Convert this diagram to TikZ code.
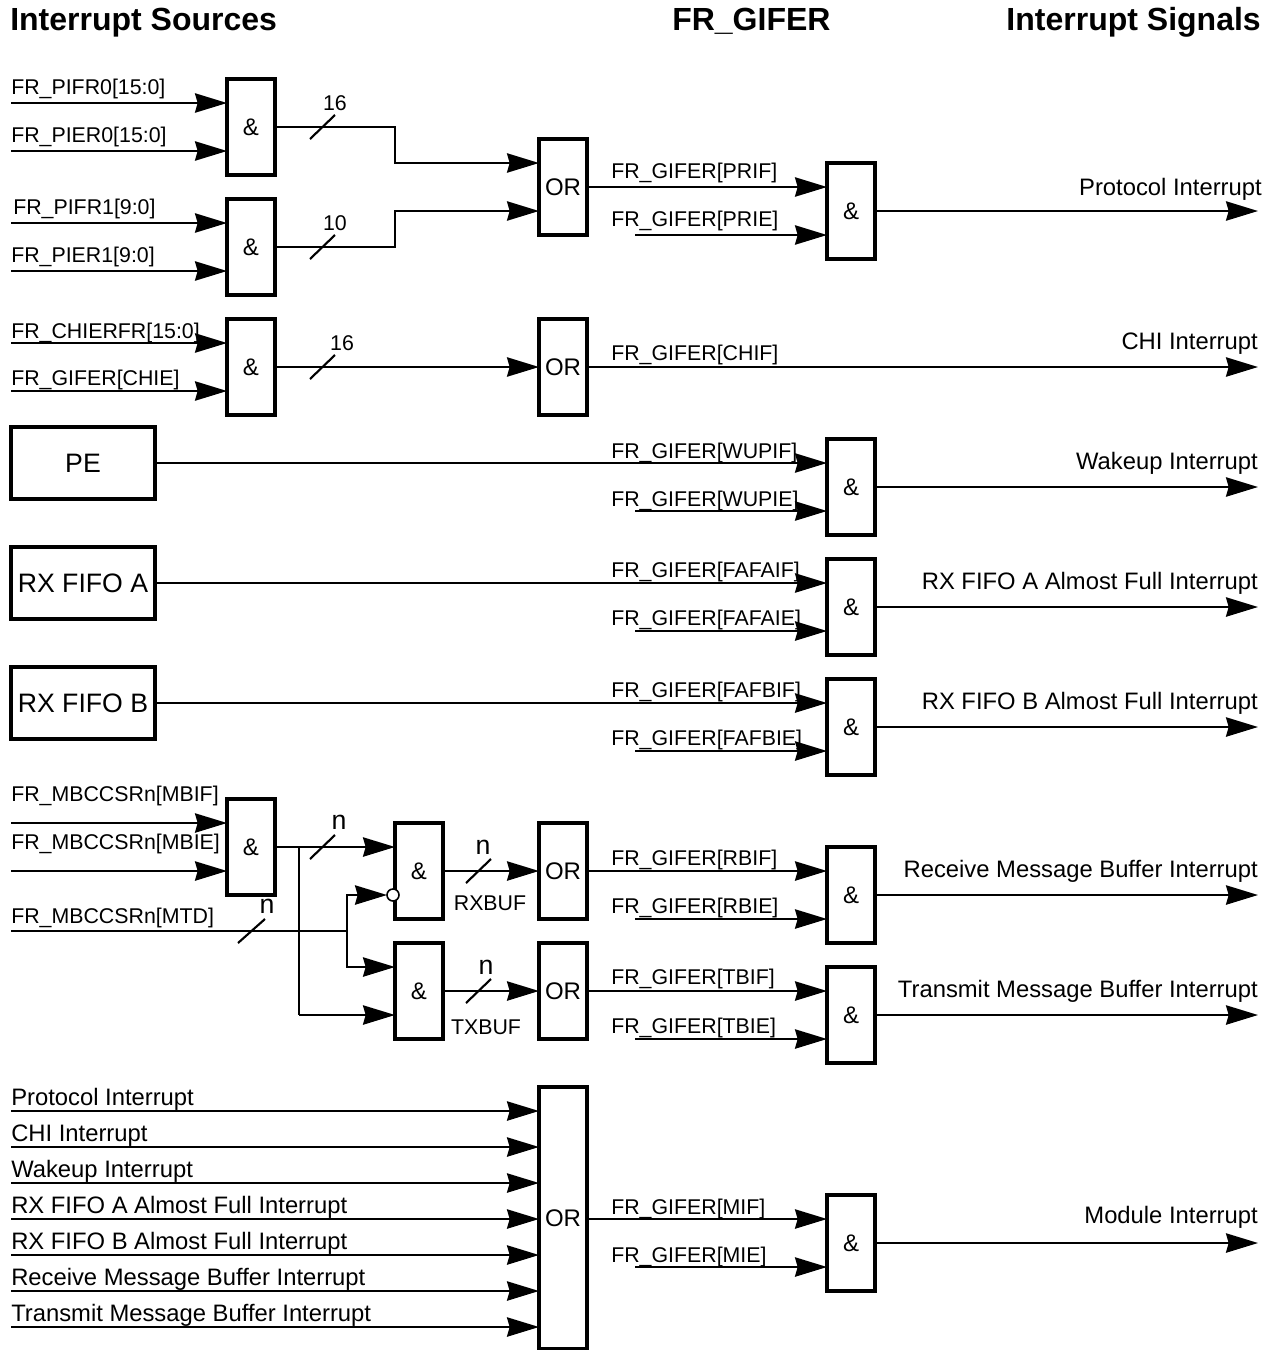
\documentclass[tikz,border=0pt]{standalone}
\usepackage{fontspec}
\setmainfont{Liberation Sans}
\usetikzlibrary{arrows.meta}
\newcommand\fs[1]{\fontsize{#1}{#1}\selectfont}
\tikzset{
  x=0.75pt,y=-0.75pt,
  boxbase/.style={draw=black,line width=2.6pt,fill=white,inner sep=0pt,outer sep=0pt,align=center},
  gate/.style={boxbase,minimum width=36pt,minimum height=72pt,font=\fs{18}},
  srcbox/.style={boxbase,minimum width=108pt,minimum height=54pt,font=\fs{20}},
  wire/.style={line width=1.6pt,line join=miter},
  sig/.style={wire,-{Stealth[length=24pt,width=14.5pt,inset=2pt]}},
  tick/.style={line width=1.6pt},
  lab/.style={anchor=base west,inner sep=0pt,font=\fs{16}},
  big/.style={anchor=base west,inner sep=0pt,font=\fs{17.85}},
  rlab/.style={anchor=base east,inner sep=0pt,font=\fs{17.85}},
  head/.style={inner sep=0pt,font=\bfseries\fs{24}},
  num/.style={inner sep=0pt,font=\fs{16}},
  nn/.style={inner sep=0pt,font=\fs{20}},
  bubble/.style={circle,draw=black,fill=white,line width=1.2pt,minimum size=9pt,inner sep=0pt,outer sep=0pt},
}
\begin{document}
\begin{tikzpicture}
\useasboundingbox (0,0) rectangle (1275,1350);
% headers
\node[head,anchor=base west] (h1) at (10,30) {Interrupt Sources};
\node[head,anchor=base west] (h2) at (672,30) {FR\_GIFER};
\node[head,anchor=base east] (h3) at (1261,30) {Interrupt Signals};
% gates
\node[gate] (A1) at (251,127) {\&};
\node[gate] (A2) at (251,247) {\&};
\node[gate] (A3) at (251,367) {\&};
\node[gate] (O1) at (563,187) {OR};
\node[gate] (G1) at (851,211) {\&};
\node[gate] (O2) at (563,367) {OR};
\node[srcbox] (PE) at (83,463) {PE};
\node[gate] (G3) at (851,487) {\&};
\node[srcbox] (RXA) at (83,583) {RX FIFO A};
\node[gate] (G4) at (851,607) {\&};
\node[srcbox] (RXB) at (83,703) {RX FIFO B};
\node[gate] (G5) at (851,727) {\&};
\node[gate] (A4) at (251,847) {\&};
\node[gate] (A5) at (419,871) {\&};
\node[gate] (O3) at (563,871) {OR};
\node[gate] (G6) at (851,895) {\&};
\node[gate] (A6) at (419,991) {\&};
\node[gate] (O4) at (563,991) {OR};
\node[gate] (G7) at (851,1015) {\&};
\node[gate,minimum height=196.5pt] (O5) at (563,1218) {OR};
\node[gate] (G8) at (851,1243) {\&};
\node[bubble] (bub) at (393,895) {};
% free ends, left inputs
\foreach \n/\y in {a/103,b/151,c/223,d/271,e/343,f/391,g/823,h/871,i/931,
  p1/1111,p2/1147,p3/1183,p4/1219,p5/1255,p6/1291,p7/1327}
  \coordinate (in\n) at (11,\y);
% free ends, enable inputs
\foreach \n/\y in {1/235,3/511,4/631,5/751,6/919,7/1039,8/1267}
  \coordinate (en\n) at (635,\y);
% free ends, right outputs
\foreach \n/\y in {1/211,2/367,3/487,4/607,5/727,6/895,7/1015,8/1243}
  \coordinate (out\n) at (1258,\y);
% bends
\coordinate (b1a) at (395,127); \coordinate (b1b) at (395,163);
\coordinate (b2a) at (395,247); \coordinate (b2b) at (395,211);
\coordinate (j1) at (299,847); \coordinate (j2) at (299,1015);
\coordinate (j3) at (347,931); \coordinate (j4) at (347,895); \coordinate (j5) at (347,967);
\coordinate (m1) at (587,1219);
% inputs of first gates
\draw[sig] (ina) -- (A1.west |- ina);
\draw[sig] (inb) -- (A1.west |- inb);
\draw[sig] (inc) -- (A2.west |- inc);
\draw[sig] (ind) -- (A2.west |- ind);
\draw[sig] (ine) -- (A3.west |- ine);
\draw[sig] (inf) -- (A3.west |- inf);
\draw[sig] (ing) -- (A4.west |- ing);
\draw[sig] (inh) -- (A4.west |- inh);
% to OR
\draw[sig] (A1.east |- b1a) -- (b1a) -- (b1b) -- (O1.west |- b1b);
\draw[sig] (A2.east |- b2a) -- (b2a) -- (b2b) -- (O1.west |- b2b);
\draw[sig] (A3.east) -- (O2.west);
% OR to AND
\draw[sig] (O1.east) -- (G1.west |- O1.east);
\draw[sig] (en1) -- (G1.west |- en1);
\draw[sig] (G1.east) -- (out1);
\draw[sig] (O2.east) -- (out2);
\draw[sig] (PE.east) -- (G3.west |- PE.east);
\draw[sig] (en3) -- (G3.west |- en3);
\draw[sig] (G3.east) -- (out3);
\draw[sig] (RXA.east) -- (G4.west |- RXA.east);
\draw[sig] (en4) -- (G4.west |- en4);
\draw[sig] (G4.east) -- (out4);
\draw[sig] (RXB.east) -- (G5.west |- RXB.east);
\draw[sig] (en5) -- (G5.west |- en5);
\draw[sig] (G5.east) -- (out5);
% message buffers
\draw[sig] (A4.east) -- (A5.west |- A4.east);
\draw[wire] (j1) -- (j2);
\draw[sig] (j2) -- (A6.west |- j2);
\draw[wire] (ini) -- (j3);
\draw[sig] (j3) -- (j4) -- (bub.west);
\draw[sig] (j3) -- (j5) -- (A6.west |- j5);
\draw[sig] (A5.east) -- (O3.west);
\draw[sig] (A6.east) -- (O4.west);
\draw[sig] (O3.east) -- (G6.west |- O3.east);
\draw[sig] (en6) -- (G6.west |- en6);
\draw[sig] (G6.east) -- (out6);
\draw[sig] (O4.east) -- (G7.west |- O4.east);
\draw[sig] (en7) -- (G7.west |- en7);
\draw[sig] (G7.east) -- (out7);
% module interrupt
\foreach \n in {1,...,7} \draw[sig] (inp\n) -- (O5.west |- inp\n);
\draw[sig] (O5.east |- m1) -- (G8.west |- m1);
\draw[sig] (en8) -- (G8.west |- en8);
\draw[sig] (G8.east) -- (out8);
% bus ticks
\draw[tick] (310,139) -- (335,115);
\draw[tick] (310,259) -- (335,235);
\draw[tick] (310,379) -- (335,355);
\draw[tick] (310,859) -- (335,835);
\draw[tick] (238,943) -- (265,919);
\draw[tick] (466,883) -- (491,859);
\draw[tick] (466,1003) -- (491,979);
\node[num] (n1) at (335,103) {16};
\node[num] (n2) at (335,223) {10};
\node[num] (n3) at (342,343) {16};
\node[nn] (n4) at (339,822) {n};
\node[nn] (n5) at (267,906) {n};
\node[nn] (n6) at (483,847) {n};
\node[nn] (n7) at (486,967) {n};
\node[num] (rx) at (490,903) {RXBUF};
\node[num] (tx) at (486,1027) {TXBUF};
% left labels
\node[lab] (l1) at (11,94) {FR\_PIFR0[15:0]};
\node[lab] (l2) at (11,142) {FR\_PIER0[15:0]};
\node[lab] (l3) at (13,214) {FR\_PIFR1[9:0]};
\node[lab] (l4) at (11,262) {FR\_PIER1[9:0]};
\node[lab] (l5) at (11,338) {FR\_CHIERFR[15:0]};
\node[lab] (l6) at (11,385) {FR\_GIFER[CHIE]};
\node[lab] (l7) at (11,801) {FR\_MBCCSRn[MBIF]};
\node[lab] (l8) at (11,849) {FR\_MBCCSRn[MBIE]};
\node[lab] (l9) at (11,923) {FR\_MBCCSRn[MTD]};
% bit labels
\node[lab] (g1) at (611,178) {FR\_GIFER[PRIF]};
\node[lab] (g2) at (611,226) {FR\_GIFER[PRIE]};
\node[lab] (g3) at (611,360) {FR\_GIFER[CHIF]};
\node[lab] (g4) at (611,458) {FR\_GIFER[WUPIF]};
\node[lab] (g5) at (611,506) {FR\_GIFER[WUPIE]};
\node[lab] (g6) at (611,577) {FR\_GIFER[FAFAIF]};
\node[lab] (g7) at (611,625) {FR\_GIFER[FAFAIE]};
\node[lab] (g8) at (611,697) {FR\_GIFER[FAFBIF]};
\node[lab] (g9) at (611,745) {FR\_GIFER[FAFBIE]};
\node[lab] (g10) at (611,865) {FR\_GIFER[RBIF]};
\node[lab] (g11) at (611,913) {FR\_GIFER[RBIE]};
\node[lab] (g12) at (611,984) {FR\_GIFER[TBIF]};
\node[lab] (g13) at (611,1033) {FR\_GIFER[TBIE]};
\node[lab] (g14) at (611,1214) {FR\_GIFER[MIF]};
\node[lab] (g15) at (611,1262) {FR\_GIFER[MIE]};
% right labels
\node[rlab] (r1) at (1262,195) {Protocol Interrupt};
\node[rlab] (r2) at (1258,349) {CHI Interrupt};
\node[rlab] (r3) at (1258,469) {Wakeup Interrupt};
\node[rlab] (r4) at (1258,589) {RX FIFO A Almost Full Interrupt};
\node[rlab] (r5) at (1258,709) {RX FIFO B Almost Full Interrupt};
\node[rlab] (r6) at (1258,877) {Receive Message Buffer Interrupt};
\node[rlab] (r7) at (1258,997) {Transmit Message Buffer Interrupt};
\node[rlab] (r8) at (1258,1223) {Module Interrupt};
% bottom-left labels
\node[big] (b1) at (11,1105) {Protocol Interrupt};
\node[big] (b2) at (11,1141) {CHI Interrupt};
\node[big] (b3) at (11,1177) {Wakeup Interrupt};
\node[big] (b4) at (11,1213) {RX FIFO A Almost Full Interrupt};
\node[big] (b5) at (11,1249) {RX FIFO B Almost Full Interrupt};
\node[big] (b6) at (11,1285) {Receive Message Buffer Interrupt};
\node[big] (b7) at (11,1321) {Transmit Message Buffer Interrupt};
\end{tikzpicture}
\end{document}
